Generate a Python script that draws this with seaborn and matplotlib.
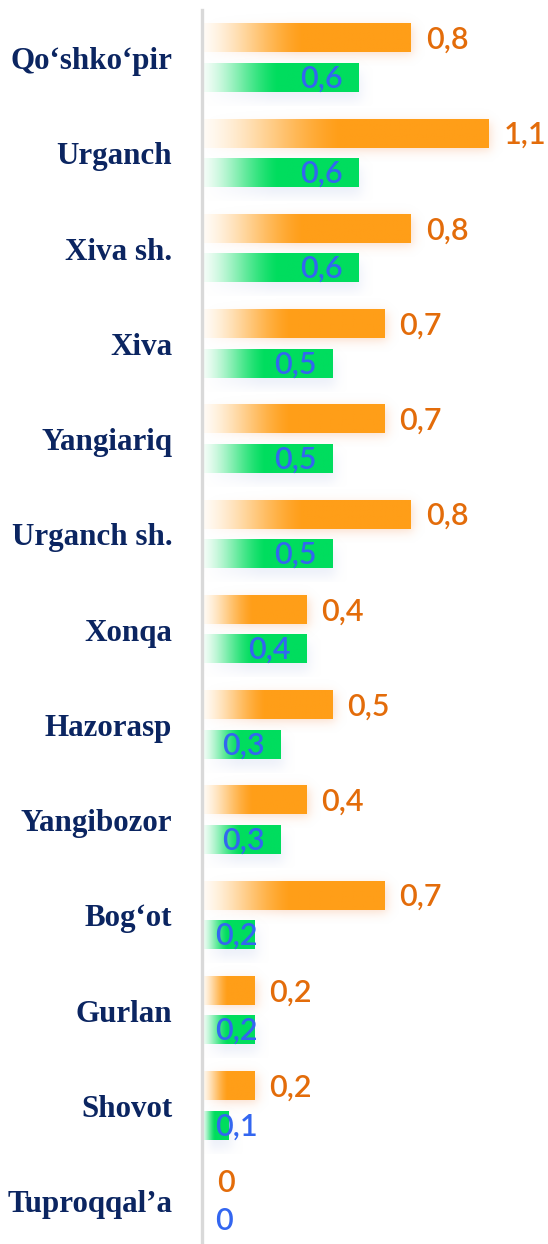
import numpy as np
import pandas as pd
import matplotlib
matplotlib.use("Agg")
import matplotlib.pyplot as plt
import seaborn as sns

# ---- data ----
districts = ["Qo‘shko‘pir", "Urganch", "Xiva sh.", "Xiva", "Yangiariq", "Urganch sh.",
             "Xonqa", "Hazorasp", "Yangibozor", "Bog‘ot", "Gurlan", "Shovot", "Tuproqqal’a"]
series_a = [0.8, 1.1, 0.8, 0.7, 0.7, 0.8, 0.4, 0.5, 0.4, 0.7, 0.2, 0.2, 0.0]
series_b = [0.6, 0.6, 0.6, 0.5, 0.5, 0.5, 0.4, 0.3, 0.3, 0.2, 0.2, 0.1, 0.0]
series_names = ["A", "B"]

ORANGE = "#FF9E18"
GREEN = "#00DD5E"
ORANGE_TXT = "#E36C0A"
BLUE_TXT = "#3366F0"
NAVY = "#0B2561"

df = pd.DataFrame({
    "district": districts * 2,
    "value": series_a + series_b,
    "series": [series_names[0]] * len(districts) + [series_names[1]] * len(districts),
})

sns.set_theme(style="white")
plt.rcParams["font.family"] = ["Lato", "DejaVu Sans"]

W, H = 548, 1244
fig = plt.figure(figsize=(W / 100, H / 100), dpi=100)
ax = fig.add_axes([202 / W, 0, 1 - 202 / W, 1 - 10 / H])

sns.barplot(data=df, y="district", x="value", hue="series", orient="h",
            palette=[ORANGE, GREEN], width=0.83, gap=0.28, dodge=True,
            legend=False, ax=ax, saturation=1)

XMAX = (W - 203) / 260.0
YTOP = (10 - 58) / 95.25
YBOT = (H - 58) / 95.25
px_x = 1 / 260.0
px_y = 1 / 95.25


def rgb(c):
    return np.array(matplotlib.colors.to_rgb(c))


def smooth(d, s):
    return 1.0 / (1.0 + np.exp(-d / s))


for patch in list(ax.patches):
    x0, y0 = patch.get_x(), patch.get_y()
    w, h = patch.get_width(), patch.get_height()
    if w <= 0:
        patch.set_visible(False)
        continue
    col = rgb(patch.get_facecolor()[:3])
    is_orange = np.allclose(col, rgb(ORANGE), atol=0.02)
    # soft shadow
    if is_orange:
        shcol, dx, dy, sa, blur = rgb("#F6B48A"), 3 * px_x, 3 * px_y, 0.45, 3.0
    else:
        shcol, dx, dy, sa, blur = rgb("#C9D3EE"), 3 * px_x, 9 * px_y, 0.35, 3.5
    m = 14
    xs = np.linspace(x0 - m * px_x, x0 + w + m * px_x, 120)
    ys = np.linspace(y0 - m * px_y, y0 + h + m * px_y, 60)
    XX, YY = np.meshgrid(xs, ys)
    ax_ = smooth((XX - (x0 + dx)) / px_x, blur) * smooth(((x0 + w + dx) - XX) / px_x, blur)
    ay_ = smooth((YY - (y0 + dy)) / px_y, blur) * smooth(((y0 + h + dy) - YY) / px_y, blur)
    xfade = np.clip((XX - x0) / (0.45 * w), 0, 1)
    alpha = ax_ * ay_ * sa * xfade
    img = np.zeros(XX.shape + (4,))
    img[..., :3] = shcol
    img[..., 3] = alpha
    ax.imshow(img, extent=(xs[0], xs[-1], ys[-1], ys[0]), aspect="auto",
              interpolation="bilinear", zorder=1)
    # gradient fill
    gx = np.linspace(0, 1, 200)
    u = np.clip(gx / 0.48, 0, 1)
    t = u * u * (3 - 2 * u)
    t = 0.5 * t + 0.5 * u
    start = 0.97 * np.ones(3) + 0.03 * col
    grad = np.zeros((1, 200, 3))
    grad[0] = start[None, :] * (1 - t[:, None]) + col[None, :] * t[:, None]
    ax.imshow(grad, extent=(x0, x0 + w, y0 + h, y0), aspect="auto",
              interpolation="bilinear", zorder=2)
    patch.set_visible(False)

# value labels
for i, (a, b) in enumerate(zip(series_a, series_b)):
    ya = i - 0.19
    yb = i + 0.215
    ax.text(a + 15 * px_x, ya, f"{a:g}".replace(".", ","), color=ORANGE_TXT,
            fontsize=22, fontweight="semibold", va="center", ha="left", zorder=5)
    xb = max(b - 58 * px_x, 13 * px_x)
    ax.text(xb, yb, f"{b:g}".replace(".", ","), color=BLUE_TXT,
            fontsize=22, fontweight="semibold", va="center", ha="left", zorder=5)

ax.set_xlim(0, XMAX)
ax.set_ylim(YBOT, YTOP)
ax.set_xlabel("")
ax.set_ylabel("")
ax.set_xticks([])
ax.tick_params(axis="y", length=0, pad=21.5)
for lab in ax.get_yticklabels():
    lab.set_fontfamily(["Liberation Serif", "DejaVu Serif"])
    lab.set_fontweight("bold")
    lab.set_fontsize(22.3)
    lab.set_color(NAVY)
for s in ["top", "right", "bottom"]:
    ax.spines[s].set_visible(False)
ax.spines["left"].set_color("#D9D9D9")
ax.spines["left"].set_linewidth(2.4)

fig.savefig("out.png", dpi=100)
